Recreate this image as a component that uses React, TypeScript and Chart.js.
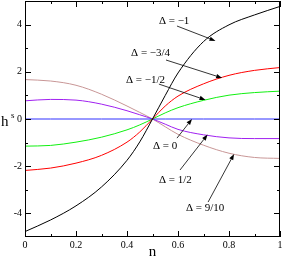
import { useEffect, useRef } from "react";
import { Chart, registerables } from "chart.js";

Chart.register(...registerables);

// ---- data ----
const nValues = [0, 0.1, 0.2, 0.3, 0.4, 0.45, 0.5, 0.55, 0.6, 0.7, 0.8, 0.9, 1];
const hDeltaM1 = [-4.77, -4.28, -3.68, -2.88, -1.75, -0.97, 0, 1.0, 1.95, 3.28, 3.99, 4.41, 4.77];
const hDeltaM34 = [-2.18, -2.08, -1.87, -1.54, -0.98, -0.55, 0, 0.55, 0.97, 1.49, 1.85, 2.06, 2.18];
const hDeltaM12 = [-1.15, -1.12, -0.98, -0.77, -0.46, -0.25, 0, 0.26, 0.48, 0.79, 1.01, 1.12, 1.18];
const hDelta0 = [0, 0, 0, 0, 0, 0, 0, 0, 0, 0, 0, 0, 0];
const hDeltaP12 = [0.77, 0.83, 0.8, 0.63, 0.35, 0.18, 0, -0.22, -0.44, -0.67, -0.8, -0.83, -0.83];
const hDeltaP910 = [1.67, 1.61, 1.43, 1.05, 0.55, 0.28, 0, -0.33, -0.65, -1.11, -1.45, -1.63, -1.67];

const xMajorTicks = [0, 0.2, 0.4, 0.6, 0.8, 1];
const xTickLabels = ["0", "0.2", "0.4", "0.6", "0.8", "1"];
const xMinorTicks = [0.1, 0.3, 0.5, 0.7, 0.9];
const yMajorTicks = [-4, -2, 0, 2, 4];
const yTickLabels = ["-4", "-2", "0", "2", "4"];
const yMinorTicks = [-3, -1, 1, 3];

const seriesNames = ["Δ = −1", "Δ = −3/4", "Δ = −1/2", "Δ = 0", "Δ = 1/2", "Δ = 9/10"];
const seriesColors = ["#000000", "#ff0000", "#11f011", "#3030ff", "#a020f0", "#c89696"];

// annotation: label anchor (n,h) and arrow start/tip (n,h)
const labelTexts = seriesNames;
const labelAt = [
  [0.525, 4.15],
  [0.416, 2.8],
  [0.396, 1.65],
  [0.502, -1.14],
  [0.525, -2.58],
  [0.631, -3.77],
];
const arrowFrom = [
  [0.596, 3.94],
  [0.553, 2.5],
  [0.525, 1.48],
  [0.596, -0.81],
  [0.608, -2.16],
  [0.718, -3.52],
];
const arrowTo = [
  [0.747, 3.31],
  [0.773, 1.74],
  [0.708, 0.81],
  [0.655, 0],
  [0.716, -0.66],
  [0.82, -1.48],
];

const allSeries = [hDeltaM1, hDeltaM34, hDeltaM12, hDelta0, hDeltaP12, hDeltaP910];

const SERIF = "'Liberation Serif', 'DejaVu Serif', serif";

const decorPlugin = {
  id: "decor",
  afterDraw(chart: any) {
    const ctx = chart.ctx;
    const xs = chart.scales.x;
    const ys = chart.scales.y;
    const ca = chart.chartArea;
    ctx.save();
    ctx.strokeStyle = "#000";
    ctx.lineWidth = 1;
    // frame
    ctx.strokeRect(ca.left + 0.5, ca.top + 0.5, ca.right - ca.left - 1, ca.bottom - ca.top - 1);
    // ticks
    const tick = (vals: number[], len: number) => {
      vals.forEach((v) => {
        const px = Math.round(xs.getPixelForValue(v)) + 0.5;
        ctx.beginPath();
        ctx.moveTo(px, ca.bottom);
        ctx.lineTo(px, ca.bottom - len);
        ctx.moveTo(px, ca.top);
        ctx.lineTo(px, ca.top + len);
        ctx.stroke();
      });
    };
    const ytick = (vals: number[], len: number) => {
      vals.forEach((v) => {
        const py = Math.round(ys.getPixelForValue(v)) + 0.5;
        ctx.beginPath();
        ctx.moveTo(ca.left, py);
        ctx.lineTo(ca.left + len, py);
        ctx.moveTo(ca.right, py);
        ctx.lineTo(ca.right - len, py);
        ctx.stroke();
      });
    };
    tick(xMajorTicks, 6);
    tick(xMinorTicks, 3);
    ytick(yMajorTicks, 6);
    ytick(yMinorTicks, 3);

    // tick labels
    ctx.fillStyle = "#000";
    ctx.font = "10px " + SERIF;
    ctx.textAlign = "center";
    ctx.textBaseline = "middle";
    xMajorTicks.forEach((v, i) => {
      ctx.fillText(xTickLabels[i], xs.getPixelForValue(v), ca.bottom + 8);
    });
    ctx.textAlign = "right";
    yMajorTicks.forEach((v, i) => {
      ctx.fillText(yTickLabels[i], ca.left - 3, ys.getPixelForValue(v));
    });

    // annotations
    ctx.font = "11px " + SERIF;
    ctx.textBaseline = "middle";
    ctx.textAlign = "left";
    labelTexts.forEach((t, i) => {
      ctx.fillText(t, xs.getPixelForValue(labelAt[i][0]), ys.getPixelForValue(labelAt[i][1]));
      const x0 = xs.getPixelForValue(arrowFrom[i][0]);
      const y0 = ys.getPixelForValue(arrowFrom[i][1]);
      const x1 = xs.getPixelForValue(arrowTo[i][0]);
      const y1 = ys.getPixelForValue(arrowTo[i][1]);
      const ang = Math.atan2(y1 - y0, x1 - x0);
      const hl = 6;
      const hw = 2.2;
      const bx = x1 - hl * Math.cos(ang);
      const by = y1 - hl * Math.sin(ang);
      ctx.beginPath();
      ctx.lineWidth = 0.8;
      ctx.moveTo(x0, y0);
      ctx.lineTo(bx, by);
      ctx.stroke();
      ctx.beginPath();
      ctx.moveTo(x1, y1);
      ctx.lineTo(bx + hw * Math.sin(ang), by - hw * Math.cos(ang));
      ctx.lineTo(bx - hw * Math.sin(ang), by + hw * Math.cos(ang));
      ctx.closePath();
      ctx.fill();
    });

    // axis titles
    ctx.font = "15px " + SERIF;
    ctx.textAlign = "left";
    ctx.textBaseline = "alphabetic";
    ctx.fillText("h", 1, 126);
    ctx.font = "9px " + SERIF;
    ctx.fillText("s", 11, 118);
    ctx.font = "15px " + SERIF;
    ctx.textAlign = "center";
    ctx.fillText("n", (ca.left + ca.right) / 2, 256);
    ctx.restore();
  },
};

export default function App() {
  const ref = useRef<HTMLCanvasElement>(null);
  useEffect(() => {
    document.body.style.margin = "0";
    const canvas = ref.current!;
    const chart = new Chart(canvas, {
      type: "line",
      data: {
        datasets: allSeries.map((s, i) => ({
          label: seriesNames[i],
          data: nValues.map((n, k) => ({ x: n, y: s[k] })),
          borderColor: seriesColors[i],
          borderWidth: 1,
          pointRadius: 0,
          fill: false,
          cubicInterpolationMode: "monotone" as const,
        })),
      },
      options: {
        animation: false,
        responsive: false,
        devicePixelRatio: 1,
        layout: { padding: { top: 1, right: 3, left: 0, bottom: 0 } },
        plugins: { legend: { display: false }, tooltip: { enabled: false } },
        scales: {
          x: {
            type: "linear",
            min: 0,
            max: 1,
            grid: { display: false, drawTicks: false },
            border: { display: false },
            ticks: { display: false },
            afterFit: (scale: any) => {
              scale.height = 21;
            },
          },
          y: {
            type: "linear",
            min: -5,
            max: 5,
            grid: { display: false, drawTicks: false },
            border: { display: false },
            ticks: { display: false },
            afterFit: (scale: any) => {
              scale.width = 25;
            },
          },
        },
      },
      plugins: [decorPlugin],
    });
    return () => chart.destroy();
  }, []);
  return (
    <canvas ref={ref} width={283} height={258} style={{ display: "block", width: 283, height: 258 }} />
  );
}
